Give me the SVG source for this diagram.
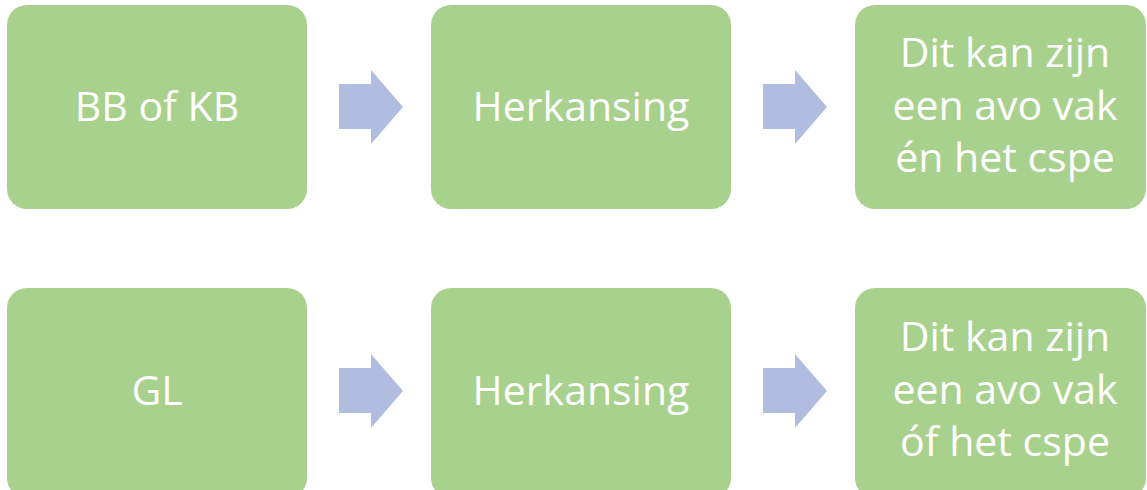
<svg xmlns="http://www.w3.org/2000/svg" width="1147" height="490" viewBox="0 0 1147 490">
<style>
.box{fill:#A9D18E}
.arr{fill:#B1BDE0}
.t{font-family:"Open Sans","Liberation Sans",sans-serif;font-size:41px;fill:#FFFFFF;text-anchor:middle}
</style>
<rect width="1147" height="490" fill="#FFFFFF"/>
<g id="connectors">
<polygon class="arr" points="339,84 371,84 371,70 403,107 371,144 371,129 339,129"/>
<polygon class="arr" points="763,84 795,84 795,70 827,107 795,144 795,129 763,129"/>
<polygon class="arr" points="339,368 371,368 371,354 403,391 371,428 371,413 339,413"/>
<polygon class="arr" points="763,368 795,368 795,354 827,391 795,428 795,413 763,413"/>
</g>
<g id="node-bbkb">
<rect class="box" x="7" y="5" width="300" height="204" rx="20"/>
<text class="t" x="157" y="121">BB of KB</text>
</g>
<g id="node-herkansing1">
<rect class="box" x="431" y="5" width="300" height="204" rx="20"/>
<text class="t" x="581" y="121">Herkansing</text>
</g>
<g id="node-result1">
<rect class="box" x="855" y="5" width="291" height="204" rx="20"/>
<text class="t" x="1005" y="67">Dit kan zijn</text>
<text class="t" x="1005" y="120">een avo vak</text>
<text class="t" x="1005" y="172">én het cspe</text>
</g>
<g id="node-gl">
<rect class="box" x="7" y="288" width="300" height="210" rx="20"/>
<text class="t" x="157" y="405">GL</text>
</g>
<g id="node-herkansing2">
<rect class="box" x="431" y="288" width="300" height="210" rx="20"/>
<text class="t" x="581" y="405">Herkansing</text>
</g>
<g id="node-result2">
<rect class="box" x="855" y="288" width="291" height="210" rx="20"/>
<text class="t" x="1005" y="351">Dit kan zijn</text>
<text class="t" x="1005" y="404">een avo vak</text>
<text class="t" x="1005" y="456">óf het cspe</text>
</g>
</svg>
